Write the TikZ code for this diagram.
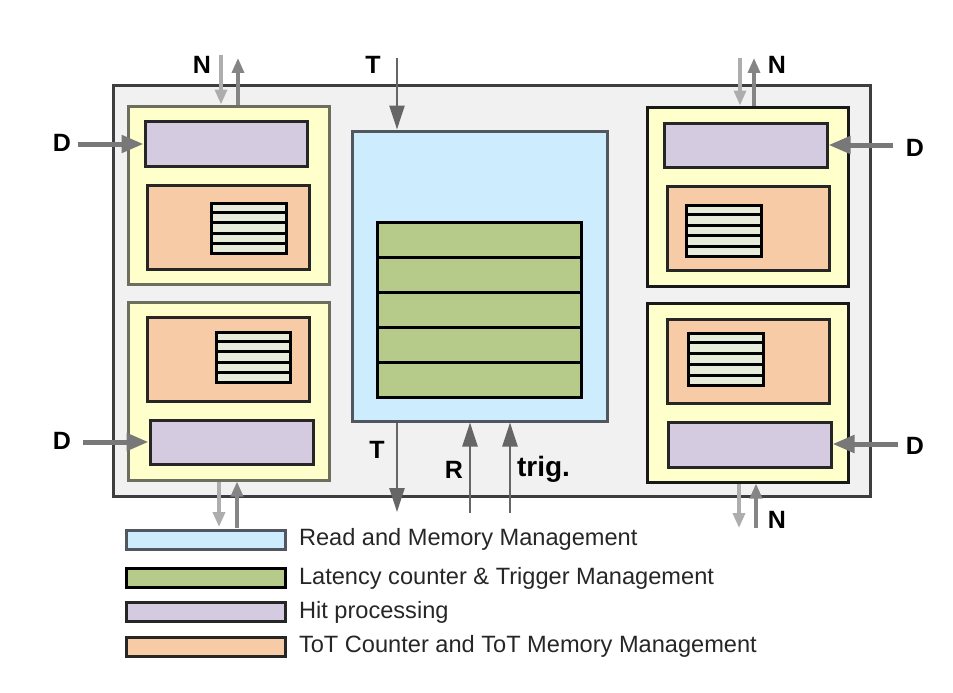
\documentclass[tikz,border=0pt]{standalone}
\usepackage{fontspec}
\setmainfont{Liberation Sans}
\usetikzlibrary{arrows.meta,calc}
\definecolor{chipbg}{HTML}{F1F1F1}
\definecolor{chipline}{HTML}{3E3E3E}
\definecolor{pixyellow}{HTML}{FFFFCC}
\definecolor{yelline}{HTML}{6E6E5E}
\definecolor{hitpurple}{HTML}{D4CBE0}
\definecolor{totorange}{HTML}{F8CBA7}
\definecolor{stripebg}{HTML}{E6ECD9}
\definecolor{readblue}{HTML}{CDECFD}
\definecolor{readline}{HTML}{50575E}
\definecolor{latgreen}{HTML}{B6CA89}

\begin{document}
\begin{tikzpicture}[x=1pt, y=-1pt,
    blk/.style={draw, line width=3pt, inner sep=0pt},
    chip/.style={blk, fill=chipbg, draw=chipline},
    pixel/.style={blk, fill=pixyellow, draw=#1, minimum width=201pt, minimum height=178pt},
    hitbox/.style={blk, fill=hitpurple, draw=black!85, minimum width=162pt, minimum height=45pt},
    totbox/.style={blk, fill=totorange, draw=black!85, minimum width=162pt, minimum height=84pt},
    memstack/.style={blk, fill=stripebg, draw=black, minimum width=75pt, minimum height=50pt},
    readbox/.style={blk, fill=readblue, draw=readline},
    latbox/.style={blk, fill=latgreen, draw=black, minimum width=204pt, minimum height=35pt},
    stripe/.style={line width=3pt, black},
    sig/.style={font=\fontsize{25}{25}\selectfont\bfseries},
    legtext/.style={font=\fontsize{23.6}{26}\selectfont, text=black!85, anchor=west},
    nin/.style={line width=3.5pt, draw=black!32, -{Triangle[length=15pt, width=12pt]}},
    nout/.style={line width=3.5pt, draw=black!48, -{Triangle[length=15pt, width=12pt]}},
    dat/.style={line width=5pt, draw=black!53, -{Triangle[length=22pt, width=17pt]}},
    thin/.style={line width=2.5pt, draw=black!60, -{Triangle[length=24pt, width=15pt]}}]
  \useasboundingbox (0,0) rectangle (953,693);
  % chip outline
  \node[chip, minimum width=757pt, minimum height=411pt] (chip) at (491.5,290.5) {};
  % four pixel regions
  \node[pixel=yelline] (tly) at (228.5,195) {};
  \node[hitbox] (tlh) at (226,143.5) {};
  \node[totbox] (tlt) at (228,227) {};
  \node[memstack] (tls) at (248.5,228) {};
  \node[pixel=yelline] (bly) at (228.5,391) {};
  \node[totbox] (blt) at (228,359) {};
  \node[memstack, minimum width=74pt] (bls) at (253,357) {};
  \node[hitbox, minimum width=163pt, minimum height=44pt] (blh) at (231.5,442) {};
  \node[pixel=black!90, minimum height=179pt] (try) at (747.5,196.5) {};
  \node[hitbox, minimum width=163pt, minimum height=44pt] (trh) at (745.5,145) {};
  \node[totbox] (trt) at (748,228) {};
  \node[memstack, minimum height=51pt] (trs) at (723.5,230.5) {};
  \node[pixel=black!90, minimum height=179pt] (bry) at (747.5,392.5) {};
  \node[totbox] (brt) at (748,361) {};
  \node[memstack, minimum height=52pt] (brs) at (725.5,359) {};
  \node[hitbox, minimum width=163pt] (brh) at (749.5,444.5) {};
  \foreach \s in {tls,bls,trs,brs}
    \foreach \i in {1,...,4}
      \draw[stripe] ($(\s.north west)!\i/5!(\s.south west)$) -- ($(\s.north east)!\i/5!(\s.south east)$);
  % read and memory management with latency rows
  \node[readbox, minimum width=255pt, minimum height=290pt] (rd) at (479.5,276) {};
  \foreach \k/\y in {1/239.5,2/274.5,3/309.5,4/344.5,5/379.5}
    \node[latbox] (lat\k) at (479,\y) {};
  % signal arrows
  \coordinate (tlNi) at (221,55);
  \coordinate (tlNo) at (238,58);
  \draw[nin] (tlNi) -- (tlNi |- tly.north);
  \draw[nout] (tlNo |- tly.north) -- (tlNo);
  \coordinate (trNi) at (740,58);
  \coordinate (trNo) at (754,58);
  \draw[nin] (trNi) -- (trNi |- try.north);
  \draw[nout] (trNo |- try.north) -- (trNo);
  \coordinate (blNi) at (219,527);
  \coordinate (blNo) at (237,528);
  \draw[nin] (blNi |- bly.south) -- (blNi);
  \draw[nout] (blNo) -- (blNo |- bly.south);
  \coordinate (brNi) at (739,528);
  \coordinate (brNo) at (756,528);
  \draw[nin] (brNi |- bry.south) -- (brNi);
  \draw[nout] (brNo) -- (brNo |- bry.south);
  \coordinate (tlD) at (78,144);
  \coordinate (blD) at (83,442);
  \coordinate (trD) at (893,145);
  \coordinate (brD) at (898,444);
  \draw[dat] (tlD) -- (tlD -| tlh.west);
  \draw[dat] (blD) -- (blD -| blh.west);
  \draw[dat] (trD) -- (trD -| trh.east);
  \draw[dat] (brD) -- (brD -| brh.east);
  \coordinate (Tin) at (397,58);
  \coordinate (Tout) at (397,512);
  \coordinate (Rin) at (470,513);
  \coordinate (trigin) at (510,513);
  \draw[thin] (Tin) -- (Tin |- rd.north);
  \draw[thin] (Tout |- rd.south) -- (Tout);
  \draw[thin] (Rin) -- (Rin |- rd.south);
  \draw[thin] (trigin) -- (trigin |- rd.south);
  % labels
  \node[sig] (lNtl) at (202,65) {N};
  \node[sig] (lNtr) at (777,65) {N};
  \node[sig] (lNbr) at (777,520) {N};
  \node[sig] (lDtl) at (62,143) {D};
  \node[sig] (lDbl) at (62,441) {D};
  \node[sig] (lDtr) at (915,148) {D};
  \node[sig] (lDbr) at (915,446) {D};
  \node[sig] (lTtop) at (373,65) {T};
  \node[sig] (lTbot) at (377,450) {T};
  \node[sig] (lR) at (454,470) {R};
  \node[sig, font=\fontsize{28}{28}\selectfont\bfseries] (ltrig) at (543.5,469) {trig.};
  % legend
  \foreach \n/\y/\st/\txt in {lgrd/539.5/readbox/Read and Memory Management,
                              lglat/578/latbox/Latency counter \& Trigger Management,
                              lghit/612/hitbox/Hit processing,
                              lgtot/646.5/totbox/ToT Counter and ToT Memory Management} {
    \node[\st, minimum width=159pt, minimum height=19pt] (\n) at (205.5,\y) {};
    \node[legtext] (\n txt) at ($(\n.east)+(9,0)$) {\txt};
  }
\end{tikzpicture}
\end{document}
